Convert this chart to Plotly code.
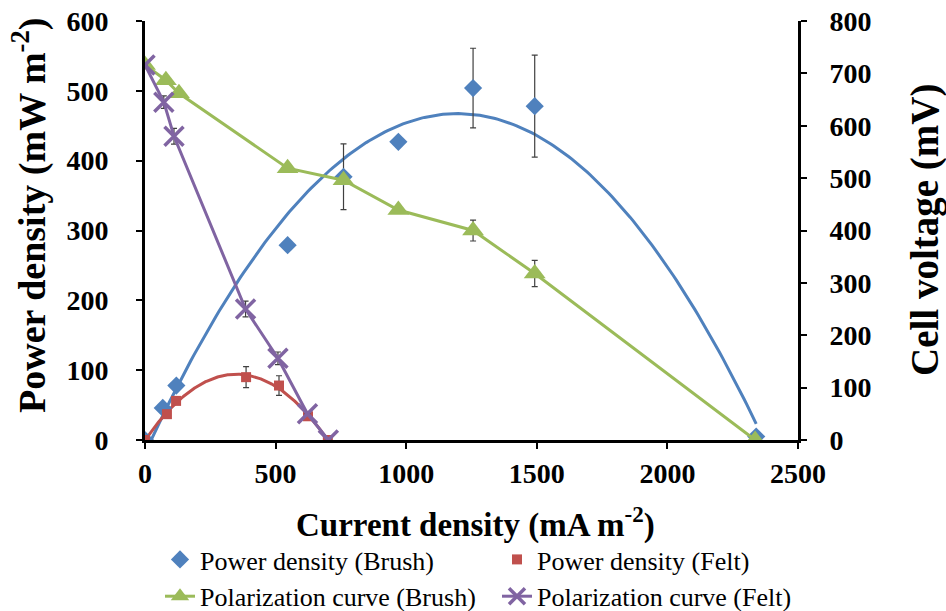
import numpy as np
import plotly.graph_objects as go

# Current density (mA m-2) and measurements
brush_pd_x = [0, 68, 120, 546, 760, 970, 1256, 1492, 2340]
brush_pd_y = [0, 46, 78, 279, 377, 427, 504, 478, 5]
brush_pd_err = [0, 0, 0, 0, 47, 0, 57, 73, 0]

felt_pd_x = [0, 84, 119, 387, 513, 624, 700]
felt_pd_y = [0, 37, 56, 90, 78, 34, 0]
felt_pd_err = [0, 0, 0, 15, 14, 0, 0]

brush_v_x = [0, 80, 130, 546, 760, 970, 1256, 1492, 2336]
brush_v_y = [716, 687, 662, 519, 496, 439, 400, 318, 0]
brush_v_err = [0, 0, 0, 0, 0, 0, 20, 25, 0]

felt_v_x = [0, 72, 111, 385, 509, 622, 702]
felt_v_y = [716, 645, 580, 250, 156, 50, 0]
felt_v_err = [0, 12, 15, 15, 12, 0, 0]

x_ticks = [0, 500, 1000, 1500, 2000, 2500]
left_ticks = [0, 100, 200, 300, 400, 500, 600]
right_ticks = [0, 100, 200, 300, 400, 500, 600, 700, 800]

BLUE = "#4F81BD"
RED = "#C0504D"
GREEN = "#9BBB59"
PURPLE = "#8064A2"
FONT = "Liberation Serif"
W, H = 946, 611
ML, MR, MT, MB = 145, 148, 21, 171
PW, PH = W - ML - MR, H - MT - MB


def trend(xs, ys, n=200):
    """Second-order polynomial trendline over the data range."""
    c = np.polyfit(xs, ys, 2)
    xx = np.linspace(min(xs), max(xs), n)
    return xx, np.polyval(c, xx)


def err(vals):
    return dict(type="data", array=vals, visible=True, color="#404040",
                thickness=1.2, width=3)


def px_to_paper(px, py):
    """Convert a pixel position on the page to paper coordinates."""
    return (px - ML) / PW, (MT + PH - py) / PH


fig = go.Figure()

# trendlines for power density
tx, ty = trend(brush_pd_x, brush_pd_y)
fig.add_trace(go.Scatter(x=tx, y=ty, mode="lines", line=dict(color=BLUE, width=3),
                         showlegend=False, hoverinfo="skip"))
tx, ty = trend(felt_pd_x, felt_pd_y)
fig.add_trace(go.Scatter(x=tx, y=ty, mode="lines", line=dict(color=RED, width=3),
                         showlegend=False, hoverinfo="skip"))

# polarization curves (right axis)
fig.add_trace(go.Scatter(
    x=brush_v_x, y=brush_v_y, yaxis="y2", mode="lines+markers",
    name="Polarization curve (Brush)", legend="legend", legendrank=2,
    line=dict(color=GREEN, width=3),
    marker=dict(symbol="triangle-up", size=19, color=GREEN),
    error_y=err(brush_v_err)))
fig.add_trace(go.Scatter(
    x=felt_v_x, y=felt_v_y, yaxis="y2", mode="lines+markers",
    name="Polarization curve (Felt)", legend="legend2", legendrank=2,
    line=dict(color=PURPLE, width=3),
    marker=dict(symbol="x-thin-open", size=19, color=PURPLE,
                line=dict(color=PURPLE, width=3.5)),
    error_y=err(felt_v_err)))

# power density points
fig.add_trace(go.Scatter(
    x=brush_pd_x, y=brush_pd_y, mode="markers", name="Power density (Brush)",
    legend="legend", legendrank=1,
    marker=dict(symbol="diamond", size=14, color=BLUE),
    error_y=err(brush_pd_err)))
fig.add_trace(go.Scatter(
    x=felt_pd_x, y=felt_pd_y, mode="markers", name="Power density (Felt)",
    legend="legend2", legendrank=1,
    marker=dict(symbol="square", size=10, color=RED),
    error_y=err(felt_pd_err)))

tickfont = dict(family=FONT, size=28, color="black", weight="bold")
axis_common = dict(showgrid=False, zeroline=False, showline=True,
                   linecolor="black", linewidth=3, ticks="outside",
                   ticklen=6, tickwidth=2, tickcolor="black",
                   tickfont=tickfont, automargin=False)

legend_common = dict(orientation="v", xref="container", yref="container",
                     yanchor="top", xanchor="left", itemwidth=30,
                     traceorder="normal", bgcolor="rgba(0,0,0,0)",
                     font=dict(family=FONT, size=26, color="black"))

# axis titles
titles = [
    ("<b>Current density (mA m<sup>-2</sup>)</b>", 475, 522, 0, 33),
    ("<b>Power density (mW m<sup>-2</sup>)</b>", 29, 216, -90, 38),
    ("<b>Cell voltage (mV)</b>", 925, 230, -90, 39),
]
annotations = []
for text, px, py, ang, size in titles:
    ax_, ay_ = px_to_paper(px, py)
    annotations.append(dict(text=text, x=ax_, y=ay_, xref="paper", yref="paper",
                            xanchor="center", yanchor="middle", textangle=ang,
                            showarrow=False,
                            font=dict(family=FONT, size=size, color="black")))

fig.update_layout(
    width=W, height=H,
    margin=dict(l=ML, r=MR, t=MT, b=MB, autoexpand=False),
    paper_bgcolor="white", plot_bgcolor="white",
    font=dict(family=FONT, color="black"),
    xaxis=dict(range=[0, 2500], tickvals=x_ticks, **axis_common),
    yaxis=dict(range=[0, 600], tickvals=left_ticks, ticklabelstandoff=22,
               **axis_common),
    yaxis2=dict(range=[0, 800], tickvals=right_ticks, overlaying="y", side="right",
                ticklabelstandoff=17, **axis_common),
    legend=dict(x=160 / W, y=1 - 536 / H, **legend_common),
    legend2=dict(x=497 / W, y=1 - 536 / H, **legend_common),
    annotations=annotations,
    showlegend=True,
)

fig.write_html("out.html")
